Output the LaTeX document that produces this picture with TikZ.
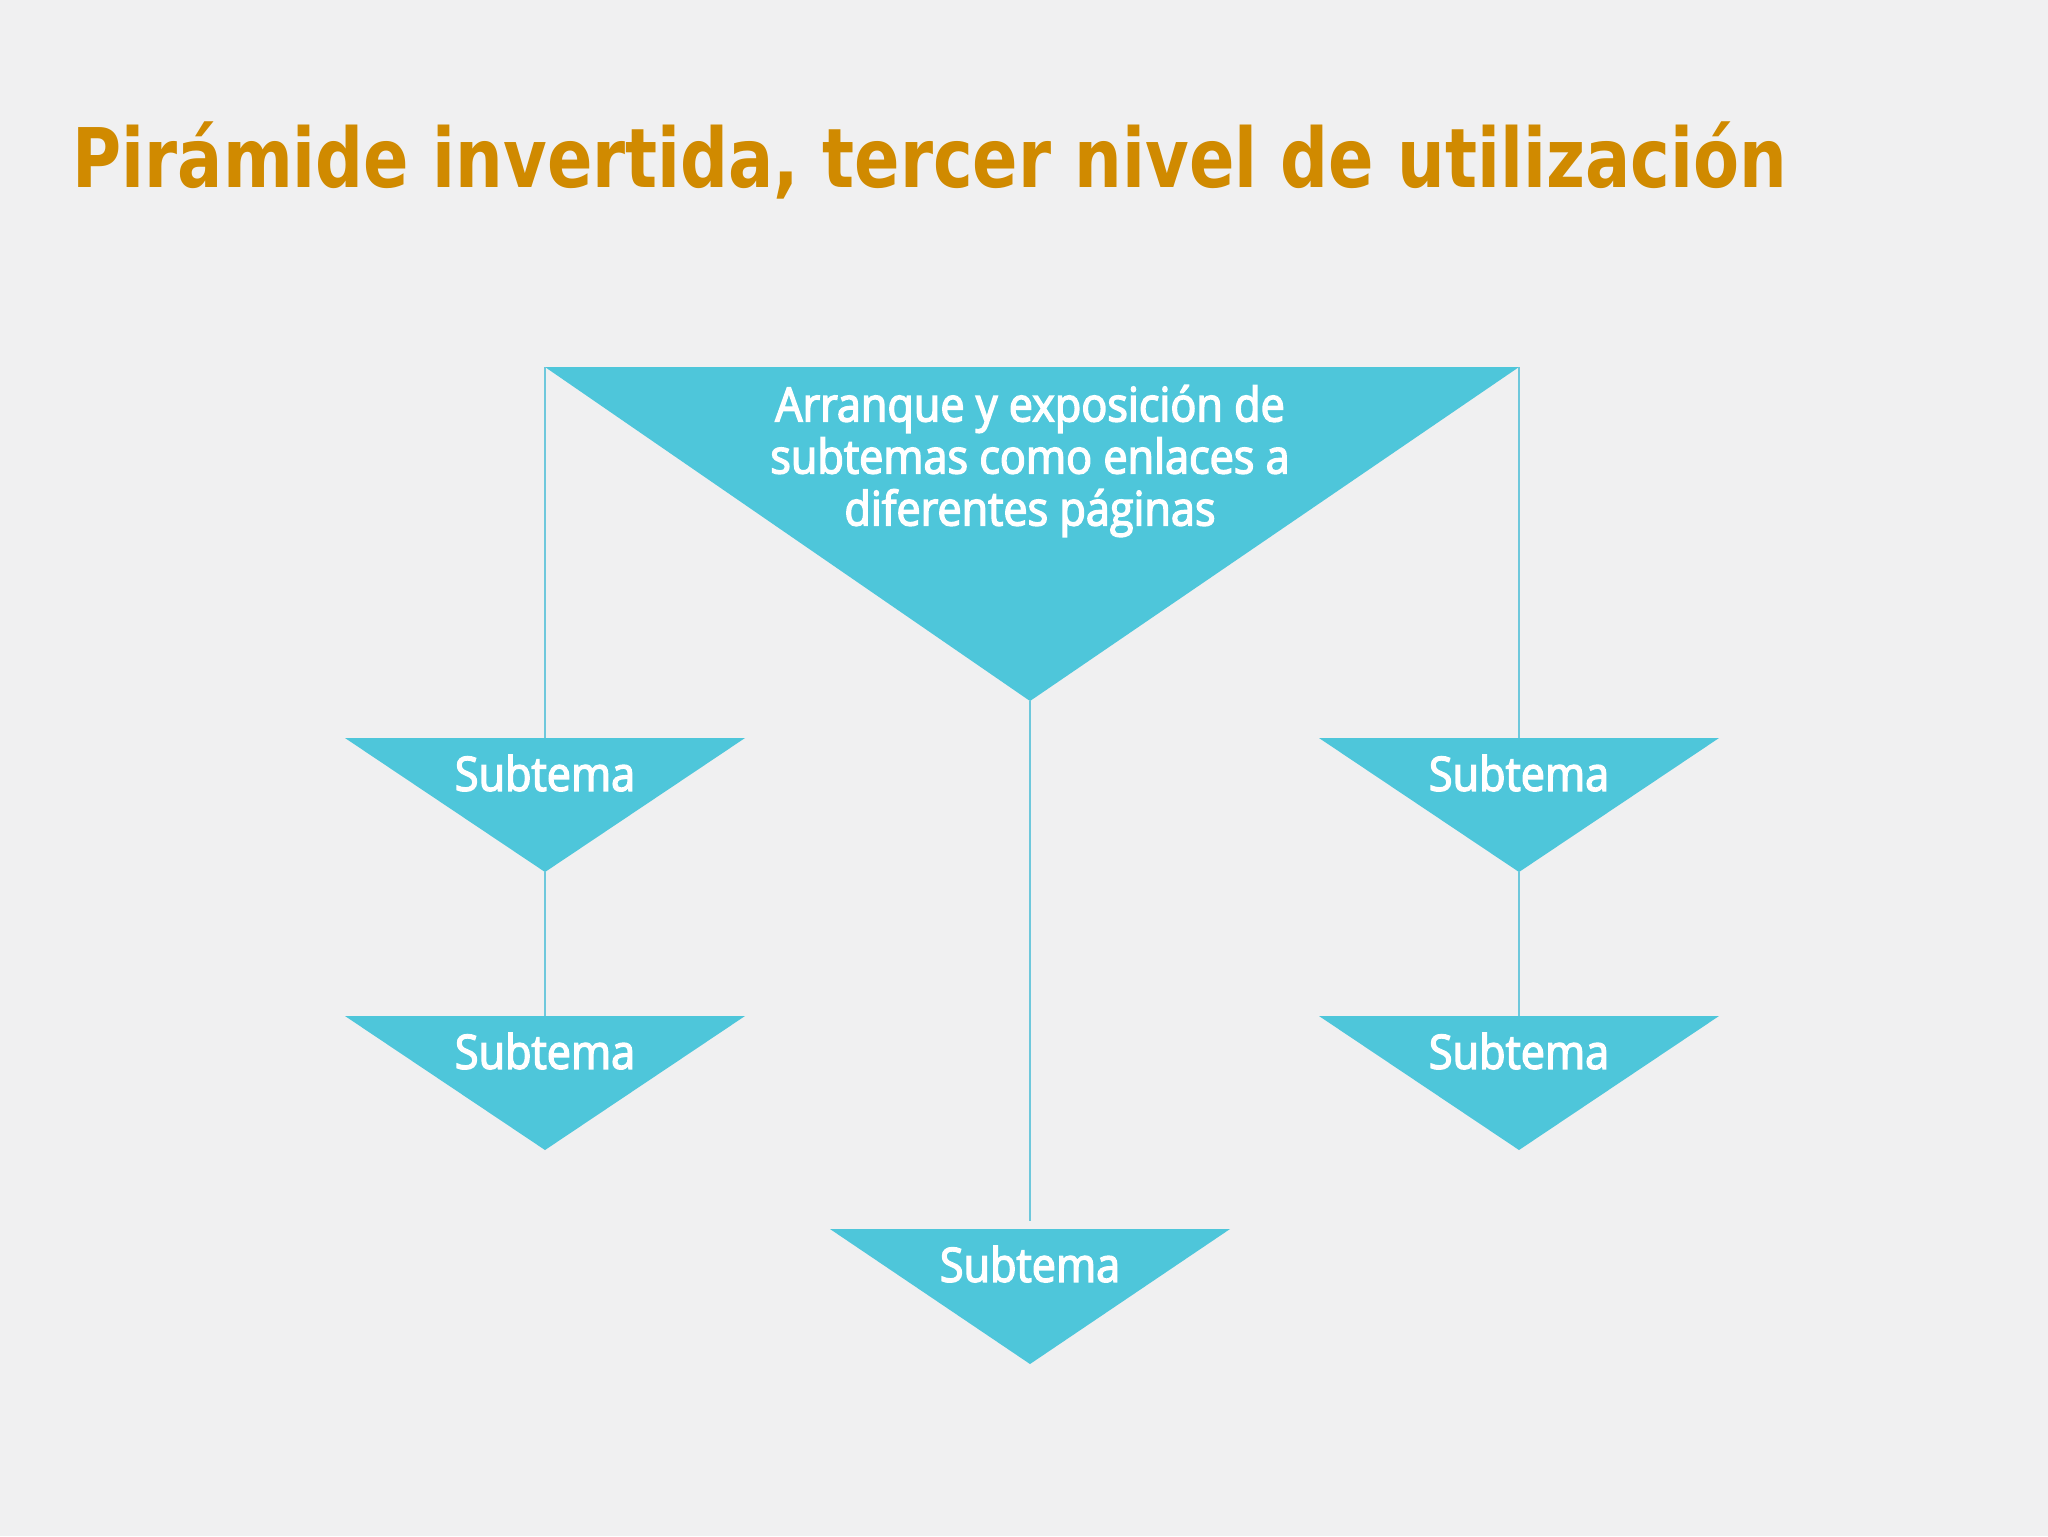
\documentclass[tikz,border=0pt]{standalone}
\usepackage{fontspec}
\setmainfont{Open Sans}
\newfontfamily\titlefont{DejaVu Sans}[FakeStretch=0.815]
\newfontfamily\labelfont{Open Sans}[FakeStretch=0.91, FakeBold=3]
\definecolor{bgcol}{RGB}{240,240,241}
\definecolor{titlecol}{RGB}{208,138,0}
\definecolor{tricyan}{RGB}{78,198,218}
\definecolor{linecyan}{RGB}{110,200,220}

\begin{document}
\begin{tikzpicture}[x=0.1mm,y=-0.1mm,
  tri/.style={fill=tricyan},
  link/.style={draw=linecyan, line width=0.8pt},
  lbl/.style={text=white, inner sep=0pt, font=\labelfont\fontsize{13.5}{14.8}\selectfont}]
\fill[bgcol] (0,0) rectangle (2048,1536);
\useasboundingbox (0,0) rectangle (2048,1536);
\node[anchor=base west, inner sep=0pt, text=titlecol, font=\titlefont\bfseries\fontsize{23.4}{28}\selectfont] (title) at (72,187) {Pirámide invertida, tercer nivel de utilización};
% big triangle
\fill[tri] (545,367) coordinate (topL) -- (1519,367) coordinate (topR) -- (1030,701) coordinate (tip) -- cycle;
\node[lbl, align=center] (main) at (1030,461) {Arranque y exposición de\\subtemas como enlaces a\\diferentes páginas};
% left column
\fill[tri] (345,738) coordinate (l1-top) -- (745,738) -- (545,872) coordinate (l1-tip) -- cycle;
\coordinate (l1-mid) at (545,738);
\node[lbl] (l1) at (545,773) {Subtema};
\fill[tri] (345,1016) -- (745,1016) -- (545,1150) coordinate (l2-tip) -- cycle;
\coordinate (l2-mid) at (545,1016);
\node[lbl] (l2) at (545,1051) {Subtema};
% right column
\fill[tri] (1319,738) -- (1719,738) -- (1519,872) coordinate (r1-tip) -- cycle;
\coordinate (r1-mid) at (1519,738);
\node[lbl] (r1) at (1519,773) {Subtema};
\fill[tri] (1319,1016) -- (1719,1016) -- (1519,1150) coordinate (r2-tip) -- cycle;
\coordinate (r2-mid) at (1519,1016);
\node[lbl] (r2) at (1519,1051) {Subtema};
% bottom
\fill[tri] (830,1229) -- (1230,1229) -- (1030,1364) coordinate (c-tip) -- cycle;
\coordinate (c-mid) at (1030,1221);
\node[lbl] (c) at (1030,1264) {Subtema};
% connectors
\draw[link] (topL) -- (l1-mid);
\draw[link] (l1-tip) -- (l2-mid);
\draw[link] (topR) -- (r1-mid);
\draw[link] (r1-tip) -- (r2-mid);
\draw[link] (tip) -- (c-mid);
\end{tikzpicture}
\end{document}
